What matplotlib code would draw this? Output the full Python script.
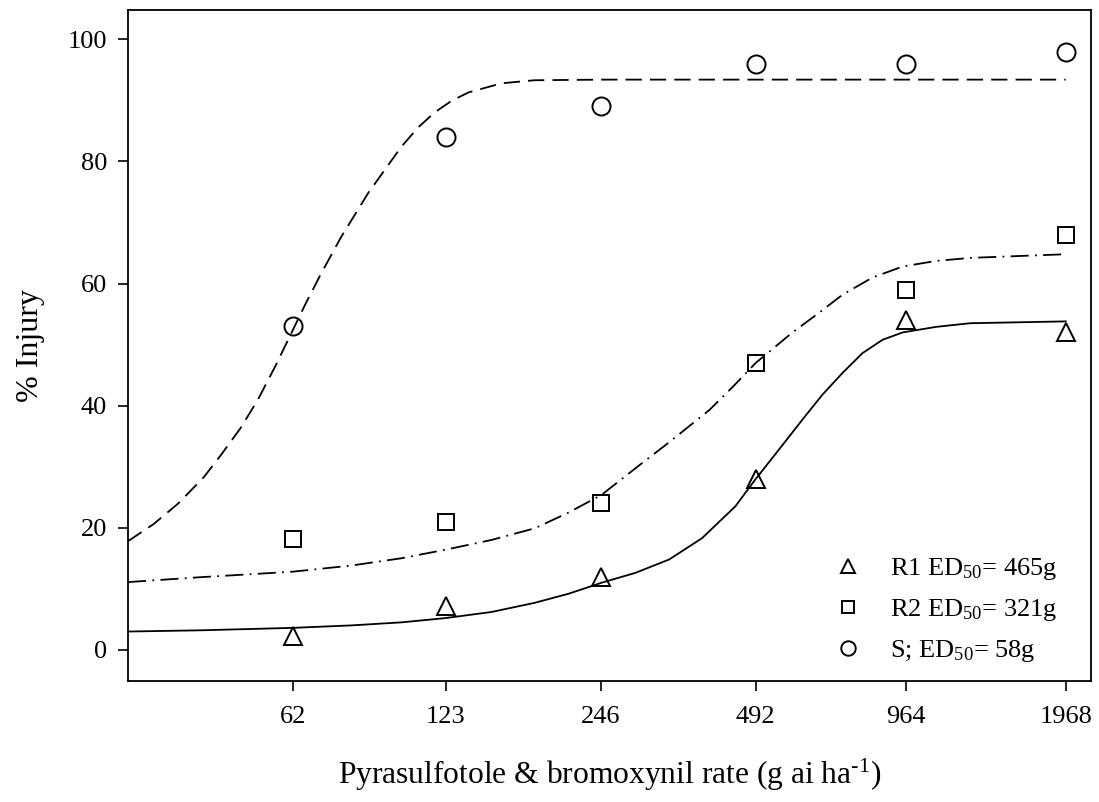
import matplotlib
matplotlib.use("Agg")
import matplotlib.pyplot as plt
from matplotlib.ticker import FixedLocator, FixedFormatter, NullLocator

plt.rcParams["font.family"] = ["Liberation Serif", "DejaVu Serif"]
plt.rcParams["mathtext.fontset"] = "custom"
plt.rcParams["mathtext.rm"] = "Liberation Serif"
plt.rcParams["mathtext.default"] = "regular"

# application rates (g ai/ha)
rates = [62, 123, 246, 492, 964, 1968]
rate_labels = ["62", "123", "246", "492", "964", "1968"]

# observed injury (%)
r1_injury = [2.2, 7.2, 12, 28, 54, 52]
r2_injury = [18.2, 21, 24, 47, 59, 68]
s_injury = [53, 84, 89, 96, 96, 98]

# fitted curves
s_fit_x = [29.7, 33.3, 37.2, 41.7, 44.9, 49.2, 53.1, 57.5, 62, 65.8, 70.4, 77.0, 86.9,
           93.6, 100.8, 108.8, 116.9, 126.1, 136.1, 157.9, 183, 250, 1968]
s_fit_y = [17.8, 20.6, 24.0, 28.3, 31.8, 36.4, 41.0, 46.6, 52.3, 56.8, 61.6, 67.6, 74.8,
           78.6, 82.4, 85.6, 88.0, 89.9, 91.3, 92.8, 93.3, 93.4, 93.4]

r2_fit_x = [29.7, 41.1, 62, 80.5, 100.8, 122.8, 150.9, 183, 213.2, 247, 296, 334, 400,
            443, 492, 580, 655, 726, 830, 950, 1102, 1283, 1968]
r2_fit_y = [11.1, 11.9, 12.8, 13.8, 15.0, 16.4, 18.0, 19.9, 22.5, 25.4, 30.6, 34.0, 39.3,
            43.0, 47.0, 52.0, 55.3, 58.2, 61.0, 62.8, 63.7, 64.2, 64.8]

r1_fit_x = [29.7, 41.1, 62, 80.5, 100.8, 122.8, 150.9, 183, 213.2, 247, 287, 334, 387,
            449, 492, 554, 606, 663, 726, 793, 868, 950, 1102, 1283, 1968]
r1_fit_y = [3.0, 3.2, 3.6, 4.0, 4.5, 5.2, 6.2, 7.7, 9.2, 11.0, 12.6, 14.8, 18.3,
            23.5, 28.0, 33.5, 37.7, 41.8, 45.4, 48.6, 50.8, 52.0, 52.9, 53.5, 53.8]

legend_labels = [
    "R1 ED$_{50}$= 465g",
    "R2 ED$_{50}$= 321g",
    "S; ED$_{50}$= 58g",
]


def main():
    fig = plt.figure(figsize=(10.99, 8.02), dpi=100)
    ax = fig.add_axes([0.1165, 0.1509, 0.8762, 0.8366])

    ax.plot(r1_fit_x, r1_fit_y, color="black", lw=1.3, ls="-")
    ax.plot(r2_fit_x, r2_fit_y, color="black", lw=1.3, dashes=(10, 3.5, 1, 3.5))
    ax.plot(s_fit_x, s_fit_y, color="black", lw=1.3, dashes=(9, 4.5))

    mk = dict(ls="none", mfc="none", mec="black", mew=1.4)
    h1, = ax.plot(rates, r1_injury, marker="^", ms=13, label=legend_labels[0], **mk)
    h2, = ax.plot(rates, r2_injury, marker="s", ms=11.5, label=legend_labels[1], **mk)
    h3, = ax.plot(rates, s_injury, marker="o", ms=13, label=legend_labels[2], **mk)

    ax.set_xscale("log", base=2)
    ax.set_xlim(29.7, 2203)
    ax.set_ylim(-5.1, 104.8)
    ax.xaxis.set_major_locator(FixedLocator(rates))
    ax.xaxis.set_major_formatter(FixedFormatter(rate_labels))
    ax.xaxis.set_minor_locator(NullLocator())
    ax.set_yticks([0, 20, 40, 60, 80, 100])

    ax.tick_params(direction="out", length=7, width=1.2, labelsize=19, pad=8)
    ax.tick_params(axis="x", pad=11)
    for sp in ax.spines.values():
        sp.set_linewidth(1.3)

    ax.set_xlabel("Pyrasulfotole & bromoxynil rate (g ai ha$^{\u20101}$)", fontsize=22.7, labelpad=21)
    ax.set_ylabel("% Injury", fontsize=23, labelpad=16)

    ax.legend(handles=[h1, h2, h3], loc="lower right", frameon=False, fontsize=19,
              markerscale=0.8, handlelength=1.0, handletextpad=1.1, labelspacing=0.56,
              bbox_to_anchor=(0.99, -0.01))

    fig.savefig("out.png", dpi=100)
    plt.close(fig)


if __name__ == "__main__":
    main()
